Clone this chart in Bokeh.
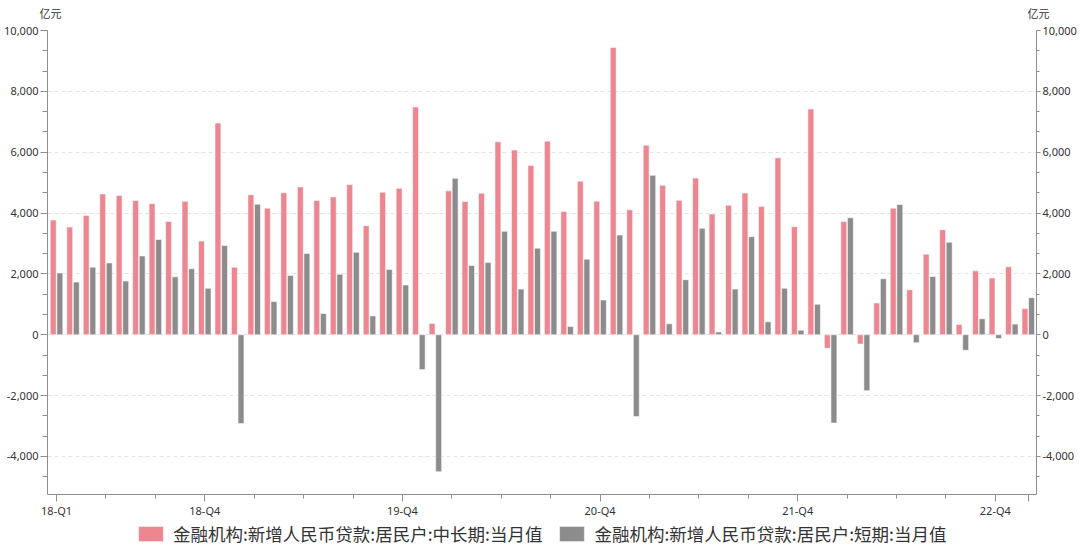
import numpy as np
from bokeh.plotting import figure
from bokeh.layouts import column
from bokeh.models import (LinearAxis, FixedTicker, SingleIntervalTicker, NumeralTickFormatter,
                          Legend, LegendItem, Label, Range1d, ColumnDataSource)
from bokeh.embed import file_html
from bokeh.resources import INLINE

# ---------------- data ----------------
months = [f"{y}-{m:02d}" for y in range(2018, 2024) for m in range(1, 13)][2:62]  # 2018-03 .. 2023-02

long_term = [3770, 3540, 3920, 4630, 4575, 4410, 4310, 3725, 4390, 3080,
             6960, 2220, 4600, 4160, 4670, 4860, 4410, 4530, 4935, 3585,
             4685, 4815, 7485, 370, 4730, 4380, 4650, 6340, 6070, 5565,
             6360, 4050, 5045, 4390, 9445, 4105, 6230, 4910, 4420, 5150,
             3965, 4260, 4660, 4215, 5815, 3550, 7420, -445, 3725, -305,
             1045, 4160, 1480, 2650, 3455, 340, 2100, 1865, 2235, 860]

short_term = [2030, 1730, 2220, 2360, 1765, 2590, 3130, 1905, 2170, 1525,
              2930, -2920, 4290, 1090, 1950, 2670, 700, 1990, 2710, 620,
              2145, 1635, -1145, -4500, 5140, 2275, 2375, 3400, 1500, 2845,
              3400, 270, 2485, 1145, 3280, -2690, 5240, 360, 1810, 3500,
              90, 1500, 3225, 425, 1525, 150, 1000, -2900, 3845, -1840,
              1840, 4280, -260, 1915, 3040, -510, 525, -120, 350, 1220]

tick_months = ["2018-03", "2018-12", "2019-12", "2020-12", "2021-12", "2022-12"]
tick_labels = ["18-Q1", "18-Q4", "19-Q4", "20-Q4", "21-Q4", "22-Q4"]

series_names = ["金融机构:新增人民币贷款:居民户:中长期:当月值",
                "金融机构:新增人民币贷款:居民户:短期:当月值"]
unit_label = "亿元"

# ---------------- chart ----------------
RED = "#EC8791"
GRAY = "#8C8C8C"
AXIS = "#8f8f8f"
TXT = "#333333"
NUMFONT = "Noto Sans"
CJK = "Noto Sans CJK SC"
W = 1080

# ---------------- header strip (unit labels) ----------------
hf = figure(width=W, height=22, output_backend="svg", toolbar_location=None,
            x_range=Range1d(0, 1), y_range=Range1d(0, 1),
            x_axis_location=None, y_axis_location=None, min_border=0)
hf.frame_align = False
hf.grid.visible = False
hf.outline_line_color = None
for xs in (50, 1038):
    hf.add_layout(Label(x=xs, y=10, x_units="screen", y_units="screen", text=unit_label,
                        text_align="center", text_baseline="middle", text_font=CJK,
                        text_font_size="11px", text_color=TXT))

# ---------------- main chart ----------------
idx = np.arange(len(months))
src = ColumnDataSource(dict(x_l=idx - 0.2, x_s=idx + 0.2, long=long_term, short=short_term))

p = figure(width=W, height=498, output_backend="svg", toolbar_location=None,
           x_range=Range1d(-0.55, len(months) - 0.5), y_range=Range1d(-5250, 10000),
           min_border_left=47, min_border_right=44, min_border_top=8, min_border_bottom=25)
p.frame_align = False
p.outline_line_color = None
p.background_fill_color = "white"
p.border_fill_color = "white"

bar_style = dict(width=0.36, line_color="white", line_alpha=0.55, line_width=1)
r1 = p.vbar(x="x_l", top="long", source=src, fill_color=RED, **bar_style)
r2 = p.vbar(x="x_s", top="short", source=src, fill_color=GRAY, **bar_style)

# x axis
major = [months.index(m) for m in tick_months] + [len(months) - 1]
minor = [i for i in range(0, len(months), 3) if i not in major]
xa = p.xaxis[0]
xa.ticker = FixedTicker(ticks=major, minor_ticks=minor)
overrides = {months.index(m): lab for m, lab in zip(tick_months, tick_labels)}
overrides[len(months) - 1] = ""
xa.major_label_overrides = overrides
xa.axis_line_color = AXIS
xa.major_tick_line_color = AXIS
xa.minor_tick_line_color = AXIS
xa.major_tick_out = 7
xa.major_tick_in = 0
xa.minor_tick_out = 4
xa.minor_tick_in = 0
xa.major_label_standoff = 1
xa.major_label_text_font = NUMFONT
xa.major_label_text_font_size = "11px"
xa.major_label_text_color = TXT

# y axes
def style_y(ax, tick_out, minor_out, standoff):
    ax.ticker = SingleIntervalTicker(interval=2000, num_minor_ticks=3)
    ax.formatter = NumeralTickFormatter(format="0,0")
    ax.axis_line_color = AXIS
    ax.major_tick_line_color = AXIS
    ax.minor_tick_line_color = AXIS
    ax.major_tick_out = tick_out
    ax.major_tick_in = 0
    ax.minor_tick_out = minor_out
    ax.minor_tick_in = 0
    ax.major_label_standoff = standoff
    ax.major_label_text_font = NUMFONT
    ax.major_label_text_font_size = "11px"
    ax.major_label_text_color = TXT

style_y(p.yaxis[0], 7, 5, 2)
ra = LinearAxis()
style_y(ra, 4, 3, 2)
p.add_layout(ra, "right")

p.xgrid.visible = False
p.ygrid.grid_line_color = "#e3e3e3"
p.ygrid.grid_line_dash = "4 3"
p.ygrid.ticker = SingleIntervalTicker(interval=2000)

# ---------------- legend strip ----------------
lf = figure(width=W, height=26, output_backend="svg", toolbar_location=None,
            x_range=Range1d(0, 1), y_range=Range1d(0, 1),
            x_axis_location=None, y_axis_location=None, min_border=0)
lf.frame_align = False
lf.grid.visible = False
lf.outline_line_color = None
lsrc = ColumnDataSource(dict(x=[-10], top=[0]))
lr1 = lf.vbar(x="x", top="top", source=lsrc, fill_color=RED, **bar_style)
lr2 = lf.vbar(x="x", top="top", source=lsrc, fill_color=GRAY, **bar_style)

legend = Legend(items=[LegendItem(label=series_names[0], renderers=[lr1]),
                       LegendItem(label=series_names[1], renderers=[lr2])],
                orientation="horizontal", location=(135, 0),
                label_text_font=CJK, label_text_font_size="17.5px", label_text_color=TXT,
                label_height=18, glyph_width=31, glyph_height=19, spacing=14, label_standoff=7,
                padding=0, margin=0, border_line_color=None, background_fill_alpha=0)
lf.add_layout(legend)

layout = column(hf, p, lf, spacing=0)
open("out.html", "w").write(file_html(layout, INLINE))
